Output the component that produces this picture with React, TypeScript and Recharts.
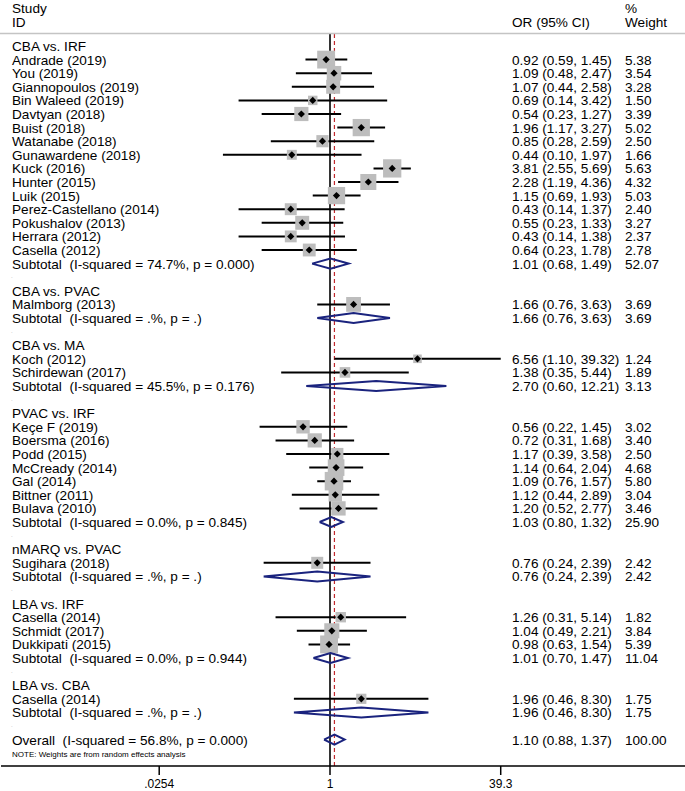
import React from 'react';
import { ScatterChart, Scatter, XAxis, YAxis, ErrorBar, ReferenceLine } from 'recharts';

// comparison groups, in plot order
const groupNames = ['CBA vs. IRF', 'CBA vs. PVAC', 'CBA vs. MA', 'PVAC vs. IRF', 'nMARQ vs. PVAC', 'LBA vs. IRF', 'LBA vs. CBA'];

// individual studies
const studyNames = [
  'Andrade (2019)', 'You (2019)', 'Giannopoulos (2019)', 'Bin Waleed (2019)', 'Davtyan (2018)', 'Buist (2018)',
  'Watanabe (2018)', 'Gunawardene (2018)', 'Kuck (2016)', 'Hunter (2015)', 'Luik (2015)', 'Perez-Castellano (2014)',
  'Pokushalov (2013)', 'Herrara (2012)', 'Casella (2012)',
  'Malmborg (2013)',
  'Koch (2012)', 'Schirdewan (2017)',
  'Keçe F (2019)', 'Boersma (2016)', 'Podd (2015)', 'McCready (2014)', 'Gal (2014)', 'Bittner (2011)', 'Bulava (2010)',
  'Sugihara (2018)',
  'Casella (2014)', 'Schmidt (2017)', 'Dukkipati (2015)',
  'Casella (2014)',
];
const studyGroup = [0, 0, 0, 0, 0, 0, 0, 0, 0, 0, 0, 0, 0, 0, 0, 1, 2, 2, 3, 3, 3, 3, 3, 3, 3, 4, 5, 5, 5, 6];
const studyOR = [0.92, 1.09, 1.07, 0.69, 0.54, 1.96, 0.85, 0.44, 3.81, 2.28, 1.15, 0.43, 0.55, 0.43, 0.64, 1.66, 6.56, 1.38, 0.56, 0.72, 1.17, 1.14, 1.09, 1.12, 1.20, 0.76, 1.26, 1.04, 0.98, 1.96];
const studyLow = [0.59, 0.48, 0.44, 0.14, 0.23, 1.17, 0.28, 0.10, 2.55, 1.19, 0.69, 0.14, 0.23, 0.14, 0.23, 0.76, 1.10, 0.35, 0.22, 0.31, 0.39, 0.64, 0.76, 0.44, 0.52, 0.24, 0.31, 0.49, 0.63, 0.46];
const studyHigh = [1.45, 2.47, 2.58, 3.42, 1.27, 3.27, 2.59, 1.97, 5.69, 4.36, 1.93, 1.37, 1.33, 1.38, 1.78, 3.63, 39.32, 5.44, 1.45, 1.68, 3.58, 2.04, 1.57, 2.89, 2.77, 2.39, 5.14, 2.21, 1.54, 8.30];
const studyWeight = [5.38, 3.54, 3.28, 1.50, 3.39, 5.02, 2.50, 1.66, 5.63, 4.32, 5.03, 2.40, 3.27, 2.37, 2.78, 3.69, 1.24, 1.89, 3.02, 3.40, 2.50, 4.68, 5.80, 3.04, 3.46, 2.42, 1.82, 3.84, 5.39, 1.75];

// subtotals per group
const subtotalHet = ['74.7%, p = 0.000', '.%, p = .', '45.5%, p = 0.176', '0.0%, p = 0.845', '.%, p = .', '0.0%, p = 0.944', '.%, p = .'];
const subtotalOR = [1.01, 1.66, 2.70, 1.03, 0.76, 1.01, 1.96];
const subtotalLow = [0.68, 0.76, 0.60, 0.80, 0.24, 0.70, 0.46];
const subtotalHigh = [1.49, 3.63, 12.21, 1.32, 2.39, 1.47, 8.30];
const subtotalWeight = [52.07, 3.69, 3.13, 25.90, 2.42, 11.04, 1.75];

// overall pooled estimate
const overallHet = '56.8%, p = 0.000';
const overallOR = 1.10;
const overallLow = 0.88;
const overallHigh = 1.37;
const overallWeight = 100.0;

const xTicks = [0.0254, 1, 39.3];
const xTickLabels = ['.0254', '1', '39.3'];

// layout
const W = 685;
const H = 791;
const TOP = 34;
const AXIS_Y = 766;
const ROW0_Y = 46;
const ROW_H = 13.6;
const PLOT_LEFT = 1;
const ONE_X = 330;
const PX_PER_LN = 46.5;
const FONT = '"Liberation Sans", Arial, Helvetica, sans-serif';
const NAVY = '#1a237e';
const BOX = '#bdbdbd';

type Row = { kind: 'group' | 'study' | 'subtotal' | 'blank' | 'overall'; label: string; or?: number; lo?: number; hi?: number; w?: number };

const rows: Row[] = [];
groupNames.forEach((g, gi) => {
  rows.push({ kind: 'group', label: g });
  studyNames.forEach((n, i) => {
    if (studyGroup[i] === gi) {
      rows.push({ kind: 'study', label: n, or: studyOR[i], lo: studyLow[i], hi: studyHigh[i], w: studyWeight[i] });
    }
  });
  rows.push({
    kind: 'subtotal',
    label: `Subtotal  (I-squared = ${subtotalHet[gi]})`,
    or: subtotalOR[gi], lo: subtotalLow[gi], hi: subtotalHigh[gi], w: subtotalWeight[gi],
  });
  rows.push({ kind: 'blank', label: '.' });
});
rows.push({ kind: 'overall', label: `Overall  (I-squared = ${overallHet})`, or: overallOR, lo: overallLow, hi: overallHigh, w: overallWeight });

const studyPoints = rows
  .map((r, i) => ({ ...r, y: i, x: r.or as number, err: [(r.or ?? 0) - (r.lo ?? 0), (r.hi ?? 0) - (r.or ?? 0)] }))
  .filter((r) => r.kind === 'study');

const DIAMOND_H = 5 / ROW_H;
const diamonds = rows
  .map((r, i) => ({ r, i }))
  .filter(({ r }) => r.kind === 'subtotal' || r.kind === 'overall')
  .map(({ r, i }) => [
    { x: r.lo, y: i },
    { x: r.or, y: i - DIAMOND_H },
    { x: r.hi, y: i },
    { x: r.or, y: i + DIAMOND_H },
    { x: r.lo, y: i },
  ]);

const yD0 = -(ROW0_Y - TOP) / ROW_H;
const yD1 = yD0 + (AXIS_Y - TOP) / ROW_H;
const xDomain = [Math.exp(-(ONE_X - PLOT_LEFT) / PX_PER_LN), Math.exp((W - ONE_X) / PX_PER_LN)];

const fmt = (v: number) => v.toFixed(2);

function RowTick(props: any) {
  const { y, payload } = props;
  const r = rows[Math.round(payload.value)];
  if (!r) return null;
  if (r.kind === 'blank') {
    return <text x={11} y={y + 1} fontSize={6} fill="#aaa" fontFamily={FONT}>.</text>;
  }
  const by = y + 5;
  return (
    <g fontFamily={FONT} fontSize={13.6} fill="#000">
      <text x={12} y={by} style={{ whiteSpace: 'pre' }}>{r.label}</text>
      {r.or !== undefined && (
        <text x={512} y={by}>{`${fmt(r.or)} (${fmt(r.lo as number)}, ${fmt(r.hi as number)})`}</text>
      )}
      {r.w !== undefined && <text x={625} y={by}>{fmt(r.w)}</text>}
    </g>
  );
}

function XTick(props: any) {
  const { x, payload } = props;
  const i = xTicks.indexOf(payload.value);
  return (
    <text x={x} y={788} textAnchor="middle" fontSize={12} fontFamily={FONT} fill="#000">
      {i >= 0 ? xTickLabels[i] : payload.value}
    </text>
  );
}

const BoxShape = (props: any) => {
  const { cx, cy, payload } = props;
  const s = 7.7 * Math.sqrt(payload.w);
  return <rect x={cx - s / 2} y={cy - s / 2} width={s} height={s} fill={BOX} />;
};

const DotShape = (props: any) => {
  const { cx, cy } = props;
  const d = 3.6;
  return <path d={`M${cx - d},${cy}L${cx},${cy - d}L${cx + d},${cy}L${cx},${cy + d}Z`} fill="#000" />;
};

export default function App() {
  return (
    <div style={{ position: 'absolute', left: 0, top: 0, width: W, height: H, background: '#fff' }}>
      <ScatterChart width={W} height={H} margin={{ top: TOP, right: 0, bottom: 0, left: 0 }}>
        <XAxis
          type="number"
          dataKey="x"
          scale="log"
          domain={xDomain}
          allowDataOverflow
          ticks={xTicks}
          interval={0}
          height={H - AXIS_Y}
          tickSize={9}
          tick={<XTick />}
          axisLine={{ stroke: '#000', strokeWidth: 1.5 }}
          tickLine={{ stroke: '#000', strokeWidth: 1.5 }}
        />
        <YAxis
          type="number"
          dataKey="y"
          domain={[yD0, yD1]}
          reversed
          allowDataOverflow
          width={PLOT_LEFT}
          ticks={rows.map((_, i) => i)}
          interval={0}
          axisLine={false}
          tickLine={false}
          tick={<RowTick />}
        />
        <ReferenceLine x={1} stroke="#000" strokeWidth={1.6} />
        <ReferenceLine x={overallOR} stroke="#c0282d" strokeWidth={1.2} strokeDasharray="4 3" />
        <Scatter data={studyPoints} shape={<BoxShape />} isAnimationActive={false} />
        <Scatter data={studyPoints} shape={<DotShape />} isAnimationActive={false}>
          <ErrorBar dataKey="err" direction="x" width={0} stroke="#000" strokeWidth={2} />
        </Scatter>
        {diamonds.map((d, i) => (
          <Scatter
            key={i}
            data={d}
            line={{ stroke: NAVY, strokeWidth: 2, strokeLinejoin: 'miter' }}
            shape={() => <g />}
            isAnimationActive={false}
          />
        ))}
      </ScatterChart>
      <svg width={W} height={H} style={{ position: 'absolute', left: 0, top: 0, pointerEvents: 'none' }}>
        <g fontFamily={FONT} fontSize={13.6} fill="#000">
          <text x={12} y={13}>Study</text>
          <text x={12} y={27}>ID</text>
          <text x={512} y={27}>OR (95% CI)</text>
          <text x={625} y={13}>%</text>
          <text x={625} y={27}>Weight</text>
        </g>
        <line x1={0} x2={W} y1={33.5} y2={33.5} stroke="#c4c4c4" strokeWidth={1.5} />
        <text x={12} y={757} fontFamily={FONT} fontSize={8} fill="#000">NOTE: Weights are from random effects analysis</text>
      </svg>
    </div>
  );
}
